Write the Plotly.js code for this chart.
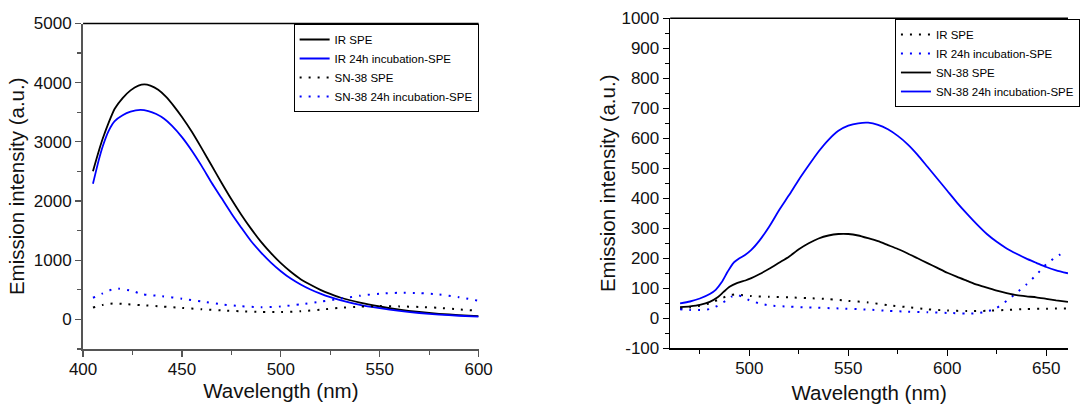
<!DOCTYPE html>
<html><head><meta charset="utf-8">
<script src="https://cdn.plot.ly/plotly-3.0.1.min.js"></script>
<style>html,body{margin:0;padding:0;background:#fff}#chart{width:1080px;height:410px}</style>
</head><body><div id="chart"></div>
<script>
// ---------- Left panel data ----------
const leftIrSpeWl  = [405,408,410,413,416,420,424,428,431,434,438,442,446,450,455,460,465,470,475,480,485,490,495,500,505,510,515,520,525,530,540,550,560,570,580,590,600];
const leftIrSpeVal = [2505,2850,3060,3330,3560,3740,3870,3950,3970,3950,3880,3760,3600,3420,3170,2890,2600,2310,2030,1770,1530,1310,1120,950,805,680,585,500,430,370,283,218,165,125,95,72,55];

const leftIr24Wl  = [405,408,410,413,416,420,424,429,433,437,441,445,450,455,460,465,470,475,480,485,490,495,500,505,510,515,520,525,530,540,550,560,570,580,590,600];
const leftIr24Val = [2292,2700,2930,3190,3350,3450,3510,3540,3520,3470,3390,3270,3080,2850,2590,2310,2050,1790,1550,1320,1130,960,815,690,590,505,435,375,325,245,190,145,108,82,62,47];

const leftSnSpeWl  = [405,410,415,420,430,440,450,460,470,480,490,500,510,520,530,540,550,560,570,580,590,600];
const leftSnSpeVal = [200,245,268,262,240,218,195,172,152,138,127,125,138,165,195,215,225,220,210,195,170,145];

const leftSn24Wl  = [405,410,415,418,425,430,440,450,460,470,480,490,500,510,520,530,540,550,560,570,580,590,600];
const leftSn24Val = [366,440,510,520,480,425,392,350,302,255,222,207,218,255,300,350,400,435,450,445,420,375,315];

// ---------- Right panel data ----------
const rightIrSpeWl  = [465,470,475,480,485,490,493,497,501,510,520,530,540,550,560,570,580,590,600,610,620,630,640,650,661];
const rightIrSpeVal = [33,36,42,50,64,77,80,77,74,72,70,67,64,58,53,44,37,30,26,24,25,28,31,32,33];

const rightIr24Wl  = [465,470,475,480,484,488,491,494,497,500,505,510,520,530,545,560,570,580,590,600,610,615,620,625,630,635,640,645,650,655,659];
const rightIr24Val = [30,28,28,31,42,58,72,78,70,60,50,43,39,36,33,29,25,22,20,18,16,17,22,35,58,85,113,145,180,205,220];

const rightSnSpeWl  = [465,470,475,480,484,487,490,494,498,501,505,510,515,520,525,530,535,540,545,550,555,560,565,570,575,580,585,590,595,600,605,610,615,620,625,630,635,640,645,650,655,661];
const rightSnSpeVal = [37,40,45,55,70,88,105,118,126,134,147,165,185,205,230,250,266,276,281,281,276,267,257,244,231,216,200,184,168,152,138,125,112,102,92,84,77,73,70,65,60,55];

const rightSn24Wl  = [465,470,475,480,483,486,489,492,495,498,501,505,510,515,520,525,530,535,540,545,550,555,560,565,570,575,580,585,590,595,600,605,610,615,620,625,630,635,640,645,650,655,661];
const rightSn24Val = [50,56,66,81,95,120,155,185,200,212,228,258,305,360,410,462,510,556,595,625,642,650,652,645,630,608,580,545,505,465,425,385,348,313,281,255,233,215,199,185,171,160,150];

// ---------- Axis tick labels ----------
const leftXTicks  = [400,450,500,550,600];
const leftYTicks  = [0,1000,2000,3000,4000,5000];
const rightXTicks = [500,550,600,650];
const rightYTicks = [-100,0,100,200,300,400,500,600,700,800,900,1000];
const rightYText  = ['-100','0','100','200','300','400','500','600','700','800','900','1000'];

const names = ['IR SPE','IR 24h incubation-SPE','SN-38 SPE','SN-38 24h incubation-SPE'];

const FONT = 'Liberation Sans, Arial, sans-serif';
const BLACK = '#000000', BLUE = '#0000ff';
const solid = c => ({color:c, width:1.8, shape:'spline', smoothing:0.6});
const dotted = c => ({color:c, width:2, dash:'2px,7px', shape:'spline', smoothing:0.6});

const traces = [
  {x:leftIrSpeWl, y:leftIrSpeVal, name:names[0], line:solid(BLACK), xaxis:'x', yaxis:'y', legend:'legend'},
  {x:leftIr24Wl,  y:leftIr24Val,  name:names[1], line:solid(BLUE),  xaxis:'x', yaxis:'y', legend:'legend'},
  {x:leftSnSpeWl, y:leftSnSpeVal, name:names[2], line:dotted(BLACK), xaxis:'x', yaxis:'y', legend:'legend'},
  {x:leftSn24Wl,  y:leftSn24Val,  name:names[3], line:dotted(BLUE),  xaxis:'x', yaxis:'y', legend:'legend'},
  {x:rightIrSpeWl, y:rightIrSpeVal, name:names[0], line:dotted(BLACK), xaxis:'x2', yaxis:'y2', legend:'legend2'},
  {x:rightIr24Wl,  y:rightIr24Val,  name:names[1], line:dotted(BLUE),  xaxis:'x2', yaxis:'y2', legend:'legend2'},
  {x:rightSnSpeWl, y:rightSnSpeVal, name:names[2], line:solid(BLACK), xaxis:'x2', yaxis:'y2', legend:'legend2'},
  {x:rightSn24Wl,  y:rightSn24Val,  name:names[3], line:solid(BLUE),  xaxis:'x2', yaxis:'y2', legend:'legend2'}
].map(t => Object.assign({type:'scatter', mode:'lines', hoverinfo:'skip'}, t));

const W = 1080, H = 410;
const tickFont = {family:FONT, size:17, color:'#111'};
const titleFont = {family:FONT, size:20.5, color:'#111'};

const baseAxis = (lc, lw) => ({
  showgrid:false, zeroline:false, showline:true, linecolor:lc, linewidth:lw,
  ticks:'outside', ticklen:6, tickwidth:1.2, tickcolor:lc, tickfont:tickFont,
  automargin:false, fixedrange:true
});

const layout = {
  width:W, height:H, paper_bgcolor:'#fff', plot_bgcolor:'rgba(0,0,0,0)',
  margin:{l:0, r:0, t:0, b:0},
  font:{family:FONT, color:'#111'},
  showlegend:true,
  xaxis: Object.assign(baseAxis('#555',2), {
    domain:[84/W, 484/W], range:[400,600], anchor:'y',
    tickmode:'array', tickvals:leftXTicks, ticklabelstandoff:-2,
    minor:{dtick:25, tick0:0, ticks:'outside', ticklen:4, tickcolor:'#555', tickwidth:1.2},
    title:{text:'Wavelength (nm)', font:titleFont, standoff:0}
  }),
  yaxis: Object.assign(baseAxis('#555',2), {
    domain:[1-349/H, 1-23.5/H], range:[-500,5000], anchor:'x',
    tickmode:'array', tickvals:leftYTicks,
    minor:{dtick:500, tick0:0, ticks:'outside', ticklen:4, tickcolor:'#555', tickwidth:1.2},
    title:{text:'Emission intensity (a.u.)', font:titleFont, standoff:4}
  }),
  xaxis2: Object.assign(baseAxis('#000',1.5), {
    domain:[677.7/W, 1], range:[460,661], anchor:'y2',
    tickmode:'array', tickvals:rightXTicks, ticklabelstandoff:-2,
    minor:{dtick:25, tick0:0, ticks:'outside', ticklen:4, tickcolor:'#000', tickwidth:1.2},
    title:{text:'Wavelength (nm)', font:titleFont, standoff:8}
  }),
  yaxis2: Object.assign(baseAxis('#000',1.5), {
    domain:[1-348.3/H, 1-18.3/H], range:[-100,1000], anchor:'x2',
    tickmode:'array', tickvals:rightYTicks, ticktext:rightYText,
    minor:{dtick:50, tick0:0, ticks:'outside', ticklen:4, tickcolor:'#000', tickwidth:1.2},
    title:{text:'Emission intensity (a.u.)', font:titleFont, standoff:0}
  }),
  legend:{x:484/W, xanchor:'right', y:1-24/H, yanchor:'top', bgcolor:'#fff',
    bordercolor:'#000', borderwidth:1, font:{family:FONT, size:11.5, color:'#000'},
    tracegroupgap:0, itemwidth:30},
  legend2:{x:905/W, xanchor:'left', y:1-19/H, yanchor:'top', bgcolor:'#fff',
    bordercolor:'#000', borderwidth:1, font:{family:FONT, size:11.5, color:'#000'},
    tracegroupgap:0, itemwidth:30},
  shapes:[
    {type:'line', xref:'x domain', yref:'y domain', x0:0, x1:1, y0:1, y1:1, line:{color:'#000', width:1.5}},
    {type:'line', xref:'x2 domain', yref:'y2 domain', x0:0, x1:1, y0:1, y1:1, line:{color:'#000', width:1.5}}
  ]
};

Plotly.newPlot('chart', traces, layout, {displayModeBar:false, staticPlot:true});
</script>
</body></html>
